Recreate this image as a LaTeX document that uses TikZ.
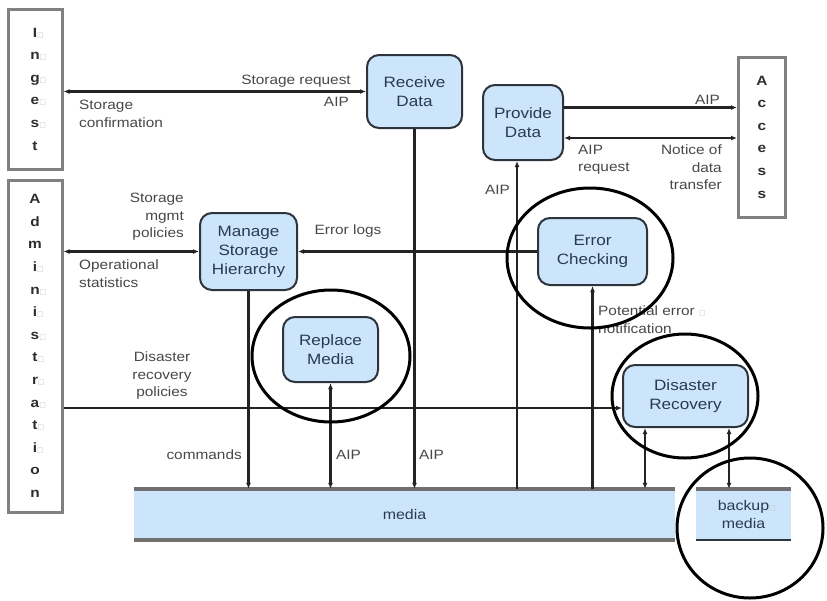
\documentclass[tikz,border=0pt]{standalone}
\usepackage{fontspec}
\setmainfont{Liberation Sans}[FakeStretch=1.14]
\newfontfamily\boxglyph{DejaVu Sans}
\usetikzlibrary{arrows.meta,calc}

\definecolor{procfill}{RGB}{204,229,250}
\definecolor{procline}{RGB}{45,52,62}
\definecolor{proctext}{RGB}{42,58,80}
\definecolor{labtext}{RGB}{72,72,72}
\definecolor{entline}{RGB}{128,128,128}
\definecolor{enttext}{RGB}{45,45,45}
\definecolor{connline}{RGB}{35,35,35}
\definecolor{barline}{RGB}{112,112,112}

% faint placeholder square left by a missing glyph
\newcommand{\gapbox}{\textcolor{gray!45}{\boxglyph\fontsize{7}{7}\selectfont □}}
\newcommand{\gl}[1]{#1\rlap{\gapbox}}

\tikzset{
  x=1pt, y=-1pt,
  >={Latex[length=6pt,width=5pt]},
  proc/.style={rounded corners=12pt, draw=procline, line width=2pt, fill=procfill,
    text=proctext, font=\fontsize{15}{19}\selectfont, align=center, inner sep=0pt},
  entity/.style={draw=entline, line width=3pt, text=enttext,
    font=\bfseries\fontsize{13.5}{22.6}\selectfont, align=center, inner sep=0pt},
  lab/.style={text=labtext, font=\fontsize{13.5}{17.5}\selectfont, inner sep=0pt},
  conn/.style={draw=connline, line width=2.2pt},
  ring/.style={draw=black, line width=3pt},
  bar/.style={fill=procfill, inner sep=0pt, text=proctext, font=\fontsize{14}{18}\selectfont, align=center}
}

\begin{document}
\begin{tikzpicture}
\fill[white] (0,0) rectangle (827,600);
\useasboundingbox (0,0) rectangle (827,600);

% external entities
\node[entity, minimum width=54, minimum height=160] (ingest) at (35,89)
  {\gl{I}\\\gl{n}\\\gl{g}\\\gl{e}\\\gl{s}\\t};
\node[entity, minimum width=54, minimum height=332] (admin) at (35,346)
  {A\\d\\m\\\gl{i}\\\gl{n}\\\gl{i}\\\gl{s}\\\gl{t}\\\gl{r}\\\gl{a}\\\gl{t}\\\gl{i}\\o\\n};
\node[entity, minimum width=47, minimum height=160] (access) at (762,137)
  {A\\c\\c\\e\\s\\s};

% functions
\node[proc, minimum width=95, minimum height=73] (rd) at (414.5,91.5) {Receive\\Data};
\node[proc, minimum width=80, minimum height=75] (pd) at (523,122.5) {Provide\\Data};
\node[proc, minimum width=97, minimum height=77] (msh) at (248.5,251.5) {Manage\\Storage\\Hierarchy};
\node[proc, minimum width=109, minimum height=67] (ec) at (592.5,251.5) {Error\\Checking};
\node[proc, minimum width=95, minimum height=65] (rm) at (330.5,349.5) {Replace\\Media};
\node[proc, minimum width=125, minimum height=62] (dr) at (685.5,396) {Disaster\\Recovery};

% storage media
\node[bar, minimum width=541, minimum height=51] (media) at (404.5,514.5) {media};
\draw[barline, line width=4pt] (media.north west) -- (media.north east);
\draw[barline, line width=4pt] (media.south west) -- (media.south east);
\node[bar, minimum width=95, minimum height=51] (backup) at (743.5,514.5) {backup\rlap{\gapbox}\\media};
\draw[barline, line width=4pt] (backup.north west) -- (backup.north east);
\draw[procline, line width=2.5pt] (backup.south west) -- (backup.south east);

% horizontal flows
\draw[conn, <->] (rd.west -| ingest.east) -- (rd.west);
\draw[conn, <->] (msh.west -| admin.east) -- (msh.west);
\draw[conn, ->] (ec.west) -- (msh.east);
\coordinate (drin) at ($(dr.west)+(0,12)$);
\draw[conn, ->] (drin -| admin.east) -- (drin);
\coordinate (pdout) at ($(pd.east)+(0,-15)$);
\draw[conn, ->] (pdout) -- (pdout -| access.west);
\coordinate (pdin) at ($(pd.east)+(0,15.5)$);
\draw[conn, <->] (pdin) -- (pdin -| access.west);

% vertical flows to and from the media
\draw[conn, ->] (msh.south) -- (msh.south |- media.north);
\draw[conn, <->] (rm.south) -- (rm.south |- media.north);
\draw[conn, ->] (rd.south) -- (rd.south |- media.north);
\coordinate (xpd) at (517,0);
\draw[conn, ->] (media.north -| xpd) -- (pd.south -| xpd);
\draw[conn, ->] (media.north -| ec.south) -- (ec.south);
\coordinate (xdr) at (645,0);
\draw[conn, <->] (dr.south -| xdr) -- (media.north -| xdr);
\coordinate (xbk) at (729,0);
\draw[conn, <->] (dr.south -| xbk) -- (backup.north -| xbk);

% flow labels
\node[lab, anchor=north east] (l1) at (351,75) {Storage request};
\node[lab, anchor=north east] (l2) at (349,97) {AIP};
\node[lab, anchor=north west, align=left] (l3) at (79,100) {Storage\\confirmation};
\node[lab, anchor=north east, align=right] (l4) at (184,193) {Storage\\mgmt\\policies};
\node[lab, anchor=north west, align=left] (l5) at (79,260) {Operational\\statistics};
\node[lab, anchor=north] (l6) at (348,225) {Error logs};
\node[lab, anchor=north, align=center] (l7) at (162,352) {Disaster\\recovery\\policies};
\node[lab, anchor=north east] (l8) at (242,450) {commands};
\node[lab, anchor=north west] (l9) at (336,450) {AIP};
\node[lab, anchor=north west] (l10) at (419,450) {AIP};
\node[lab, anchor=north east] (l11) at (510,185) {AIP};
\node[lab, anchor=north east] (l12) at (720,95) {AIP};
\node[lab, anchor=north west, align=left] (l13) at (578,145) {AIP\\request};
\node[lab, anchor=north east, align=right] (l14) at (722,145) {Notice of\\data\\transfer};
\node[lab, anchor=north west, align=left] (l15) at (598,306) {Potential error \gapbox\\notification};

% highlighted functions
\draw[ring] (331,356) ellipse [x radius=79pt, y radius=66pt];
\draw[ring] (590,258) ellipse [x radius=83pt, y radius=70pt];
\draw[ring] (685,396) ellipse [x radius=73pt, y radius=62pt];
\draw[ring] (750,528) ellipse [x radius=73pt, y radius=70pt];
\end{tikzpicture}
\end{document}
